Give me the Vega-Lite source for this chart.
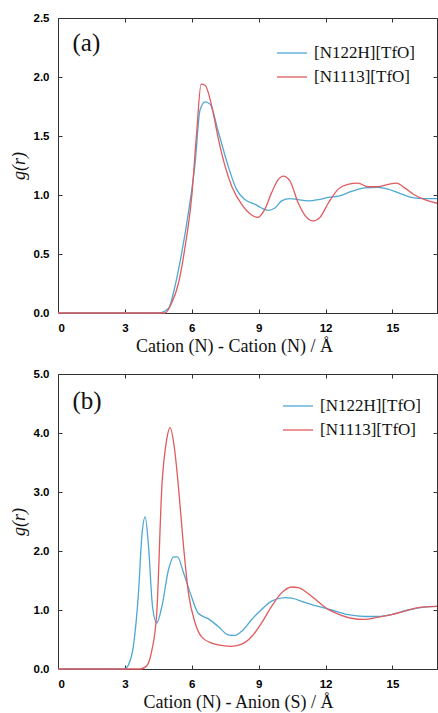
{
  "$schema": "https://vega.github.io/schema/vega-lite/v6.json",
  "padding": {"left": 10, "top": 12, "right": 0, "bottom": 0},
  "background": "white",
  "spacing": 12,
  "config": {
    "view": {"stroke": null},
    "axis": {
      "domainColor": "#333", "domainWidth": 1, "tickColor": "#333", "tickSize": -4, "tickWidth": 1,
      "grid": false, "labelFont": "Liberation Sans, Arial, sans-serif", "labelFontWeight": "bold", "labelFontSize": 11.5,
      "labelColor": "#000", "titleFont": "Liberation Serif, Times New Roman, serif", "titleFontSize": 18, "titleFontWeight": "normal", "titleColor": "#111"
    },
    "legend": {
      "labelFont": "Liberation Serif, Times New Roman, serif", "labelFontSize": 17, "labelColor": "#111", "symbolType": "stroke",
      "symbolStrokeWidth": 1.5, "symbolSize": 900, "rowPadding": -4, "labelOffset": 6
    },
    "line": {"strokeWidth": 1.3, "interpolate": "monotone"}
  },
  "datasets": {
    "a": [
      {"r": 0, "g": 0, "s": "[N122H][TfO]"},
      {"r": 4.5, "g": 0, "s": "[N122H][TfO]"},
      {"r": 4.96, "g": 0.04, "s": "[N122H][TfO]"},
      {"r": 5.25, "g": 0.23, "s": "[N122H][TfO]"},
      {"r": 5.55, "g": 0.51, "s": "[N122H][TfO]"},
      {"r": 5.85, "g": 0.85, "s": "[N122H][TfO]"},
      {"r": 6.15, "g": 1.27, "s": "[N122H][TfO]"},
      {"r": 6.37, "g": 1.72, "s": "[N122H][TfO]"},
      {"r": 6.6, "g": 1.79, "s": "[N122H][TfO]"},
      {"r": 6.82, "g": 1.77, "s": "[N122H][TfO]"},
      {"r": 7.2, "g": 1.53, "s": "[N122H][TfO]"},
      {"r": 7.64, "g": 1.24, "s": "[N122H][TfO]"},
      {"r": 8.0, "g": 1.05, "s": "[N122H][TfO]"},
      {"r": 8.4, "g": 0.96, "s": "[N122H][TfO]"},
      {"r": 8.84, "g": 0.92, "s": "[N122H][TfO]"},
      {"r": 9.13, "g": 0.89, "s": "[N122H][TfO]"},
      {"r": 9.43, "g": 0.87, "s": "[N122H][TfO]"},
      {"r": 9.73, "g": 0.89, "s": "[N122H][TfO]"},
      {"r": 10.03, "g": 0.95, "s": "[N122H][TfO]"},
      {"r": 10.4, "g": 0.97, "s": "[N122H][TfO]"},
      {"r": 10.78, "g": 0.96, "s": "[N122H][TfO]"},
      {"r": 11.22, "g": 0.95, "s": "[N122H][TfO]"},
      {"r": 11.67, "g": 0.96, "s": "[N122H][TfO]"},
      {"r": 12.12, "g": 0.98, "s": "[N122H][TfO]"},
      {"r": 12.57, "g": 0.99, "s": "[N122H][TfO]"},
      {"r": 13.16, "g": 1.03, "s": "[N122H][TfO]"},
      {"r": 13.76, "g": 1.06, "s": "[N122H][TfO]"},
      {"r": 14.36, "g": 1.065, "s": "[N122H][TfO]"},
      {"r": 14.8, "g": 1.05, "s": "[N122H][TfO]"},
      {"r": 15.25, "g": 1.02, "s": "[N122H][TfO]"},
      {"r": 15.85, "g": 0.98, "s": "[N122H][TfO]"},
      {"r": 16.45, "g": 0.97, "s": "[N122H][TfO]"},
      {"r": 17.0, "g": 0.97, "s": "[N122H][TfO]"},
      {"r": 0, "g": 0, "s": "[N1113][TfO]"},
      {"r": 4.8, "g": 0, "s": "[N1113][TfO]"},
      {"r": 5.1, "g": 0.085, "s": "[N1113][TfO]"},
      {"r": 5.4, "g": 0.25, "s": "[N1113][TfO]"},
      {"r": 5.7, "g": 0.56, "s": "[N1113][TfO]"},
      {"r": 6.0, "g": 0.99, "s": "[N1113][TfO]"},
      {"r": 6.22, "g": 1.53, "s": "[N1113][TfO]"},
      {"r": 6.42, "g": 1.94, "s": "[N1113][TfO]"},
      {"r": 6.6, "g": 1.93, "s": "[N1113][TfO]"},
      {"r": 6.9, "g": 1.75, "s": "[N1113][TfO]"},
      {"r": 7.2, "g": 1.47, "s": "[N1113][TfO]"},
      {"r": 7.5, "g": 1.24, "s": "[N1113][TfO]"},
      {"r": 7.8, "g": 1.07, "s": "[N1113][TfO]"},
      {"r": 8.24, "g": 0.92, "s": "[N1113][TfO]"},
      {"r": 8.69, "g": 0.83, "s": "[N1113][TfO]"},
      {"r": 8.96, "g": 0.81, "s": "[N1113][TfO]"},
      {"r": 9.28, "g": 0.88, "s": "[N1113][TfO]"},
      {"r": 9.58, "g": 1.02, "s": "[N1113][TfO]"},
      {"r": 9.88, "g": 1.13, "s": "[N1113][TfO]"},
      {"r": 10.1, "g": 1.16, "s": "[N1113][TfO]"},
      {"r": 10.4, "g": 1.12, "s": "[N1113][TfO]"},
      {"r": 10.78, "g": 0.93, "s": "[N1113][TfO]"},
      {"r": 11.15, "g": 0.81, "s": "[N1113][TfO]"},
      {"r": 11.45, "g": 0.78, "s": "[N1113][TfO]"},
      {"r": 11.75, "g": 0.81, "s": "[N1113][TfO]"},
      {"r": 12.12, "g": 0.93, "s": "[N1113][TfO]"},
      {"r": 12.57, "g": 1.05, "s": "[N1113][TfO]"},
      {"r": 13.0, "g": 1.09, "s": "[N1113][TfO]"},
      {"r": 13.46, "g": 1.1, "s": "[N1113][TfO]"},
      {"r": 13.9, "g": 1.07, "s": "[N1113][TfO]"},
      {"r": 14.36, "g": 1.07, "s": "[N1113][TfO]"},
      {"r": 14.8, "g": 1.09, "s": "[N1113][TfO]"},
      {"r": 15.18, "g": 1.1, "s": "[N1113][TfO]"},
      {"r": 15.55, "g": 1.06, "s": "[N1113][TfO]"},
      {"r": 16.0, "g": 1.0, "s": "[N1113][TfO]"},
      {"r": 16.45, "g": 0.96, "s": "[N1113][TfO]"},
      {"r": 17.0, "g": 0.93, "s": "[N1113][TfO]"}
    ],
    "b": [
      {"r": 0, "g": 0, "s": "[N122H][TfO]"},
      {"r": 2.98, "g": 0, "s": "[N122H][TfO]"},
      {"r": 3.16, "g": 0.07, "s": "[N122H][TfO]"},
      {"r": 3.39, "g": 0.41, "s": "[N122H][TfO]"},
      {"r": 3.61, "g": 1.29, "s": "[N122H][TfO]"},
      {"r": 3.76, "g": 2.25, "s": "[N122H][TfO]"},
      {"r": 3.91, "g": 2.58, "s": "[N122H][TfO]"},
      {"r": 4.06, "g": 2.08, "s": "[N122H][TfO]"},
      {"r": 4.24, "g": 1.06, "s": "[N122H][TfO]"},
      {"r": 4.43, "g": 0.78, "s": "[N122H][TfO]"},
      {"r": 4.66, "g": 1.06, "s": "[N122H][TfO]"},
      {"r": 4.96, "g": 1.69, "s": "[N122H][TfO]"},
      {"r": 5.18, "g": 1.9, "s": "[N122H][TfO]"},
      {"r": 5.36, "g": 1.9, "s": "[N122H][TfO]"},
      {"r": 5.63, "g": 1.63, "s": "[N122H][TfO]"},
      {"r": 5.93, "g": 1.29, "s": "[N122H][TfO]"},
      {"r": 6.3, "g": 0.94, "s": "[N122H][TfO]"},
      {"r": 6.75, "g": 0.85, "s": "[N122H][TfO]"},
      {"r": 7.19, "g": 0.72, "s": "[N122H][TfO]"},
      {"r": 7.64, "g": 0.58, "s": "[N122H][TfO]"},
      {"r": 7.94, "g": 0.57, "s": "[N122H][TfO]"},
      {"r": 8.24, "g": 0.64, "s": "[N122H][TfO]"},
      {"r": 8.69, "g": 0.84, "s": "[N122H][TfO]"},
      {"r": 9.13, "g": 1.01, "s": "[N122H][TfO]"},
      {"r": 9.58, "g": 1.15, "s": "[N122H][TfO]"},
      {"r": 10.18, "g": 1.21, "s": "[N122H][TfO]"},
      {"r": 10.48, "g": 1.2, "s": "[N122H][TfO]"},
      {"r": 11.07, "g": 1.13, "s": "[N122H][TfO]"},
      {"r": 11.67, "g": 1.06, "s": "[N122H][TfO]"},
      {"r": 12.27, "g": 1.0, "s": "[N122H][TfO]"},
      {"r": 13.01, "g": 0.92, "s": "[N122H][TfO]"},
      {"r": 13.76, "g": 0.89, "s": "[N122H][TfO]"},
      {"r": 14.36, "g": 0.89, "s": "[N122H][TfO]"},
      {"r": 14.96, "g": 0.92, "s": "[N122H][TfO]"},
      {"r": 15.7, "g": 1.0, "s": "[N122H][TfO]"},
      {"r": 16.45, "g": 1.05, "s": "[N122H][TfO]"},
      {"r": 17.0, "g": 1.06, "s": "[N122H][TfO]"},
      {"r": 0, "g": 0, "s": "[N1113][TfO]"},
      {"r": 3.7, "g": 0, "s": "[N1113][TfO]"},
      {"r": 3.99, "g": 0.06, "s": "[N1113][TfO]"},
      {"r": 4.2, "g": 0.3, "s": "[N1113][TfO]"},
      {"r": 4.43, "g": 0.95, "s": "[N1113][TfO]"},
      {"r": 4.66, "g": 3.1, "s": "[N1113][TfO]"},
      {"r": 4.88, "g": 3.9, "s": "[N1113][TfO]"},
      {"r": 5.03, "g": 4.09, "s": "[N1113][TfO]"},
      {"r": 5.22, "g": 3.75, "s": "[N1113][TfO]"},
      {"r": 5.4, "g": 3.1, "s": "[N1113][TfO]"},
      {"r": 5.63, "g": 2.08, "s": "[N1113][TfO]"},
      {"r": 5.85, "g": 1.29, "s": "[N1113][TfO]"},
      {"r": 6.15, "g": 0.78, "s": "[N1113][TfO]"},
      {"r": 6.45, "g": 0.54, "s": "[N1113][TfO]"},
      {"r": 6.9, "g": 0.44, "s": "[N1113][TfO]"},
      {"r": 7.34, "g": 0.4, "s": "[N1113][TfO]"},
      {"r": 7.79, "g": 0.385, "s": "[N1113][TfO]"},
      {"r": 8.24, "g": 0.42, "s": "[N1113][TfO]"},
      {"r": 8.69, "g": 0.55, "s": "[N1113][TfO]"},
      {"r": 9.13, "g": 0.78, "s": "[N1113][TfO]"},
      {"r": 9.58, "g": 1.06, "s": "[N1113][TfO]"},
      {"r": 10.03, "g": 1.29, "s": "[N1113][TfO]"},
      {"r": 10.48, "g": 1.39, "s": "[N1113][TfO]"},
      {"r": 10.78, "g": 1.38, "s": "[N1113][TfO]"},
      {"r": 11.22, "g": 1.28, "s": "[N1113][TfO]"},
      {"r": 11.67, "g": 1.14, "s": "[N1113][TfO]"},
      {"r": 12.12, "g": 1.01, "s": "[N1113][TfO]"},
      {"r": 12.57, "g": 0.93, "s": "[N1113][TfO]"},
      {"r": 13.16, "g": 0.86, "s": "[N1113][TfO]"},
      {"r": 13.76, "g": 0.84, "s": "[N1113][TfO]"},
      {"r": 14.36, "g": 0.88, "s": "[N1113][TfO]"},
      {"r": 14.96, "g": 0.92, "s": "[N1113][TfO]"},
      {"r": 15.55, "g": 0.98, "s": "[N1113][TfO]"},
      {"r": 16.15, "g": 1.04, "s": "[N1113][TfO]"},
      {"r": 17.0, "g": 1.06, "s": "[N1113][TfO]"}
    ],
    "labels": [
      {"p": "a", "r": 0.65, "g": 2.29, "t": "(a)"},
      {"p": "b", "r": 0.65, "g": 4.55, "t": "(b)"}
    ]
  },
  "vconcat": [
    {
      "width": 379, "height": 295,
      "resolve": {"axis": {"x": "independent", "y": "independent"}},
      "layer": [
        {
          "data": {"name": "a"},
          "transform": [{"filter": "datum.s === '[N122H][TfO]'"}],
          "mark": {"type": "line"},
          "encoding": {
            "x": {"field": "r", "type": "quantitative", "scale": {"domain": [0, 17], "nice": false},
                  "axis": {"orient": "bottom", "values": [0, 3, 6, 9, 12, 15], "title": "Cation (N) - Cation (N) /  Å", "titleX": 176, "labelPadding": 13, "titlePadding": 4,
                           "labelFont": "Liberation Sans, Arial, sans-serif", "labelFontWeight": "bold", "titleFont": "Liberation Serif, Times New Roman, serif"}},
            "y": {"field": "g", "type": "quantitative", "scale": {"domain": [0, 2.5], "nice": false},
                  "axis": {"orient": "left", "values": [0, 0.5, 1, 1.5, 2, 2.5], "format": ".1f", "title": "g(r)", "titleFontStyle": "italic", "labelPadding": 13, "titlePadding": 5,
                           "labelFont": "Liberation Sans, Arial, sans-serif", "labelFontWeight": "bold", "titleFont": "Liberation Serif, Times New Roman, serif"}},
            "color": {"field": "s", "type": "nominal",
                      "scale": {"domain": ["[N122H][TfO]", "[N1113][TfO]"], "range": ["#4ea8d4", "#e05a5e"]},
                      "legend": {"orient": "none", "legendX": 218, "legendY": 19, "title": null, "labelFont": "Liberation Serif, Times New Roman, serif"}}
          }
        },
        {
          "data": {"name": "a"},
          "transform": [{"filter": "datum.s === '[N1113][TfO]'"}],
          "mark": {"type": "line"},
          "encoding": {
            "x": {"field": "r", "type": "quantitative", "scale": {"domain": [0, 17], "nice": false},
                  "axis": {"orient": "top", "values": [0, 3, 6, 9, 12, 15], "labels": false, "title": null}},
            "y": {"field": "g", "type": "quantitative", "scale": {"domain": [0, 2.5], "nice": false},
                  "axis": {"orient": "right", "values": [0, 0.5, 1, 1.5, 2, 2.5], "labels": false, "title": null}},
            "color": {"field": "s", "type": "nominal",
                      "scale": {"domain": ["[N122H][TfO]", "[N1113][TfO]"], "range": ["#4ea8d4", "#e05a5e"]}}
          }
        },
        {
          "data": {"name": "labels"},
          "transform": [{"filter": "datum.p === 'a'"}],
          "mark": {"type": "text", "font": "Liberation Serif, Times New Roman, serif", "fontSize": 25, "align": "left", "baseline": "middle", "color": "#111"},
          "encoding": {
            "x": {"field": "r", "type": "quantitative", "axis": null},
            "y": {"field": "g", "type": "quantitative", "axis": null},
            "text": {"field": "t"}
          }
        }
      ]
    },
    {
      "width": 379, "height": 295,
      "resolve": {"axis": {"x": "independent", "y": "independent"}},
      "layer": [
        {
          "data": {"name": "b"},
          "transform": [{"filter": "datum.s === '[N122H][TfO]'"}],
          "mark": {"type": "line"},
          "encoding": {
            "x": {"field": "r", "type": "quantitative", "scale": {"domain": [0, 17], "nice": false},
                  "axis": {"orient": "bottom", "values": [0, 3, 6, 9, 12, 15], "title": "Cation (N) - Anion (S) /  Å", "titleX": 180, "labelPadding": 13, "titlePadding": 4,
                           "labelFont": "Liberation Sans, Arial, sans-serif", "labelFontWeight": "bold", "titleFont": "Liberation Serif, Times New Roman, serif"}},
            "y": {"field": "g", "type": "quantitative", "scale": {"domain": [0, 5], "nice": false},
                  "axis": {"orient": "left", "values": [0, 1, 2, 3, 4, 5], "format": ".1f", "title": "g(r)", "titleFontStyle": "italic", "labelPadding": 13, "titlePadding": 5,
                           "labelFont": "Liberation Sans, Arial, sans-serif", "labelFontWeight": "bold", "titleFont": "Liberation Serif, Times New Roman, serif"}},
            "color": {"field": "s", "type": "nominal",
                      "scale": {"domain": ["[N122H][TfO]", "[N1113][TfO]"], "range": ["#4ea8d4", "#e05a5e"]},
                      "legend": {"orient": "none", "legendX": 224, "legendY": 16, "title": null, "labelFont": "Liberation Serif, Times New Roman, serif"}}
          }
        },
        {
          "data": {"name": "b"},
          "transform": [{"filter": "datum.s === '[N1113][TfO]'"}],
          "mark": {"type": "line"},
          "encoding": {
            "x": {"field": "r", "type": "quantitative", "scale": {"domain": [0, 17], "nice": false},
                  "axis": {"orient": "top", "values": [0, 3, 6, 9, 12, 15], "labels": false, "title": null}},
            "y": {"field": "g", "type": "quantitative", "scale": {"domain": [0, 5], "nice": false},
                  "axis": {"orient": "right", "values": [0, 1, 2, 3, 4, 5], "labels": false, "title": null}},
            "color": {"field": "s", "type": "nominal",
                      "scale": {"domain": ["[N122H][TfO]", "[N1113][TfO]"], "range": ["#4ea8d4", "#e05a5e"]}}
          }
        },
        {
          "data": {"name": "labels"},
          "transform": [{"filter": "datum.p === 'b'"}],
          "mark": {"type": "text", "font": "Liberation Serif, Times New Roman, serif", "fontSize": 25, "align": "left", "baseline": "middle", "color": "#111"},
          "encoding": {
            "x": {"field": "r", "type": "quantitative", "axis": null},
            "y": {"field": "g", "type": "quantitative", "axis": null},
            "text": {"field": "t"}
          }
        }
      ]
    }
  ],
  "resolve": {"scale": {"color": "independent"}}
}
